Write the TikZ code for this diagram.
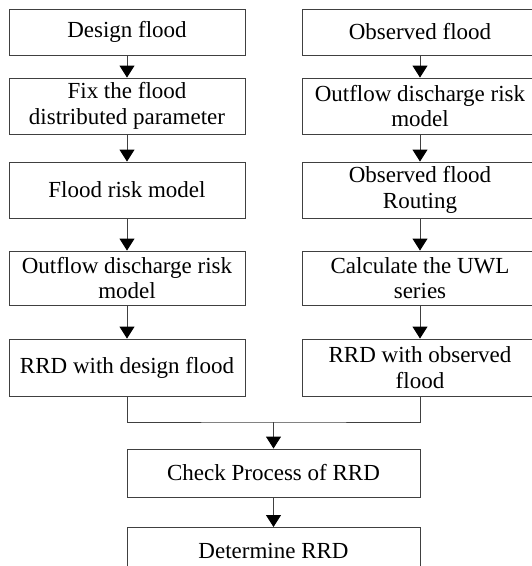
\documentclass[tikz,border=0pt]{standalone}
\usepackage{fontspec}
\setmainfont{Liberation Serif}
\usetikzlibrary{arrows.meta}
\begin{document}
\begin{tikzpicture}[x=1pt,y=-1pt,
  box/.style={draw=black!75,line width=0.9pt,inner sep=0pt,align=center,
    font=\fontsize{23}{25.5}\selectfont,minimum width=236pt},
  wide/.style={box,minimum width=293pt},
  conn/.style={draw=black!75,line width=0.9pt},
  arr/.style={conn,-{Triangle[width=15pt,length=12pt,color=black]}}]
\useasboundingbox (0,0) rectangle (532,566);
\fill[white] (0,0) rectangle (532,566);
\clip (0,0) rectangle (532,566);
% left column
\node[box,minimum height=46pt] (L1) at (127,32) {Design flood};
\node[box,minimum height=56pt] (L2) at (127,106) {Fix the flood\\distributed parameter};
\node[box,minimum height=56pt] (L3) at (127,190) {Flood risk model};
\node[box,minimum height=54pt] (L4) at (127,278) {Outflow discharge risk\\model};
\node[box,minimum height=57pt] (L5) at (127,367.5) {RRD with design flood};
% right column
\node[box,minimum height=46pt] (R1) at (420,32) {Observed flood};
\node[box,minimum height=56pt] (R2) at (420,106) {Outflow discharge risk\\model};
\node[box,minimum height=56pt] (R3) at (420,190) {Observed flood\\Routing};
\node[box,minimum height=54pt] (R4) at (420,278) {Calculate the UWL\\series};
\node[box,minimum height=57pt] (R5) at (420,367.5) {RRD with observed\\flood};
% bottom
\node[wide,minimum height=48pt] (C) at (273.5,473) {Check Process of RRD};
\node[wide,minimum height=48pt,anchor=north] (D) at (273.5,527) {Determine RRD};
% connectors
\draw[arr] (L1) -- (L2);
\draw[arr] (L2) -- (L3);
\draw[arr] (L3) -- (L4);
\draw[arr] (L4) -- (L5);
\draw[arr] (R1) -- (R2);
\draw[arr] (R2) -- (R3);
\draw[arr] (R3) -- (R4);
\draw[arr] (R4) -- (R5);
\coordinate (j) at (273.5,422);
\draw[conn] (L5.south) |- (j) -| (R5.south);
\draw[arr] (j) -- (C.north);
\draw[arr] (C) -- (D);
\end{tikzpicture}
\end{document}
